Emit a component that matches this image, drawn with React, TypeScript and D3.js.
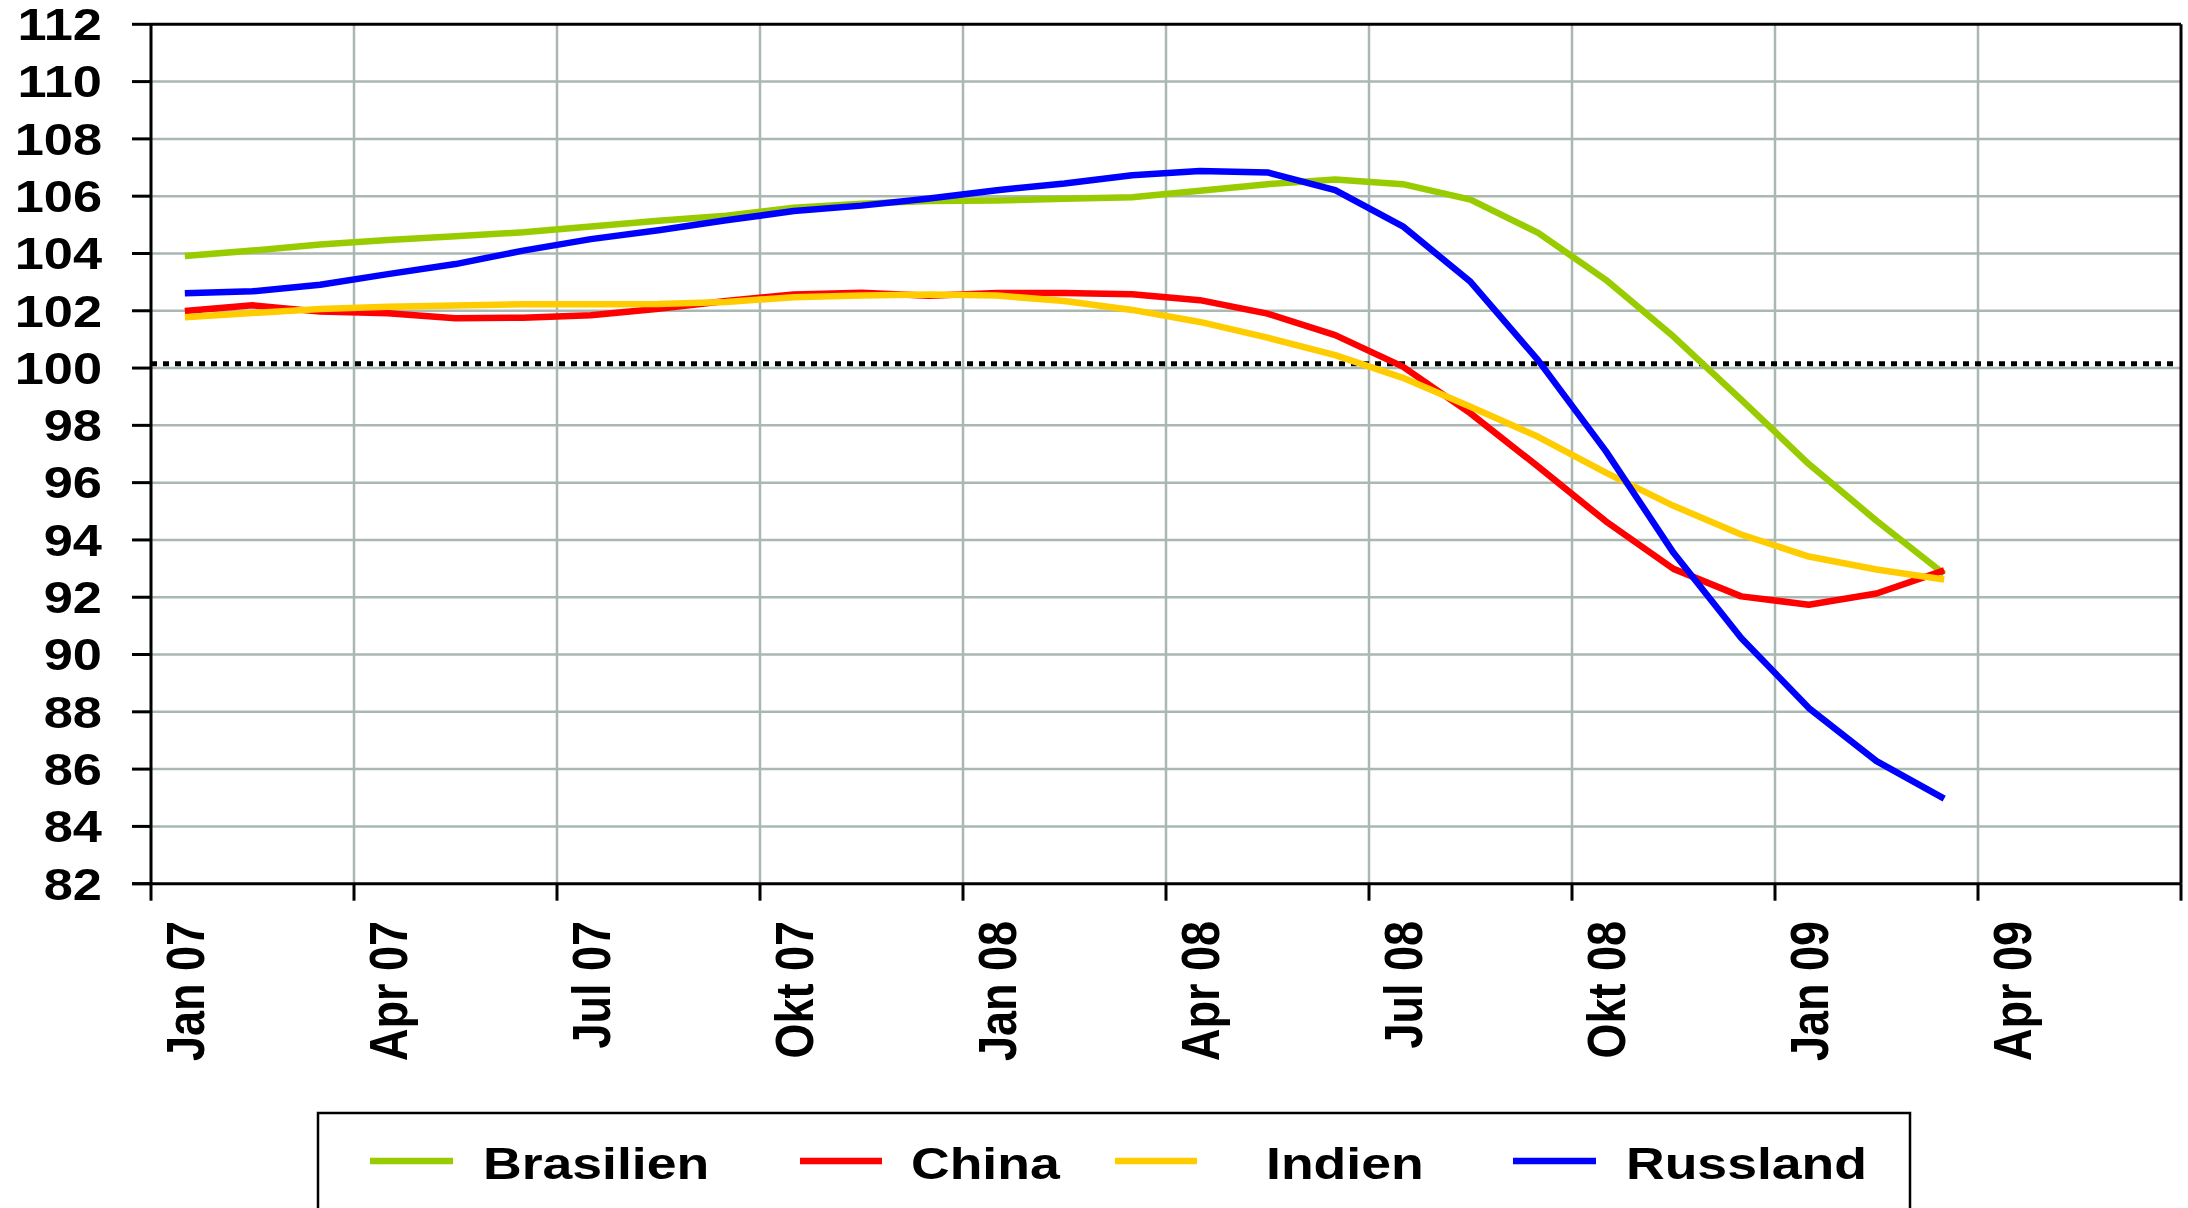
import React, { useEffect } from "react";
import * as d3 from "d3";

const W = 2188;
const H = 1208;

// 30 monthly categories Jan 07 .. Jun 09; data for the first 27 (Jan 07 .. Mar 09)
const categoryCount = 30;
const tickLabels = ["Jan 07", "Apr 07", "Jul 07", "Okt 07", "Jan 08", "Apr 08", "Jul 08", "Okt 08", "Jan 09", "Apr 09"];
const yTicks = [82, 84, 86, 88, 90, 92, 94, 96, 98, 100, 102, 104, 106, 108, 110, 112];
const referenceValue = 100.15;

const brasilien = [103.91, 104.1, 104.31, 104.47, 104.6, 104.74, 104.94, 105.14, 105.32, 105.6, 105.74, 105.83, 105.85, 105.91, 105.96, 106.19, 106.42, 106.58, 106.42, 105.88, 104.72, 103.08, 101.1, 98.9, 96.65, 94.67, 92.81];
const china = [101.99, 102.19, 101.97, 101.91, 101.74, 101.76, 101.84, 102.07, 102.34, 102.57, 102.63, 102.52, 102.62, 102.62, 102.58, 102.37, 101.9, 101.15, 100.05, 98.42, 96.56, 94.65, 92.99, 92.03, 91.74, 92.13, 92.94];
const indien = [101.77, 101.92, 102.06, 102.14, 102.18, 102.23, 102.23, 102.24, 102.31, 102.47, 102.53, 102.57, 102.53, 102.34, 102.03, 101.61, 101.06, 100.45, 99.66, 98.65, 97.6, 96.35, 95.19, 94.19, 93.42, 92.97, 92.62];
const russland = [102.61, 102.68, 102.91, 103.28, 103.63, 104.1, 104.5, 104.81, 105.16, 105.48, 105.67, 105.92, 106.21, 106.44, 106.73, 106.88, 106.83, 106.21, 104.95, 103.01, 100.27, 97.1, 93.55, 90.58, 88.13, 86.28, 84.97];

const seriesNames = ["Brasilien", "China", "Indien", "Russland"];
const seriesColors = ["#99cc00", "#ff0000", "#ffcc00", "#0000ff"];
const seriesValues = [brasilien, china, indien, russland];

const FONT = "'Liberation Sans', Arial, Helvetica, sans-serif";
const SX = 1.19; // horizontal stretch of the original's text

export default function App() {
  useEffect(() => {
    document.body.style.margin = "0";
    document.body.style.overflow = "hidden";
  }, []);

  const left = 151;
  const right = 2181;
  const top = 24.3;
  const bottom = 883.7;

  const x = d3.scaleLinear().domain([0, categoryCount]).range([left, right]);
  const y = d3.scaleLinear().domain([82, 112]).range([bottom, top]);

  const line = d3
    .line<number>()
    .x((_, i) => x(i + 0.5))
    .y((d) => y(d));

  const vGrid = d3.range(3, categoryCount, 3);
  const xTickPos = d3.range(0, categoryCount + 1, 3);

  const legendY = 1161;
  const legendItems = [
    { x1: 370, x2: 453, tx: 483 },
    { x1: 800, x2: 882, tx: 911 },
    { x1: 1115, x2: 1197, tx: 1266 },
    { x1: 1513, x2: 1596, tx: 1626 },
  ];

  return (
    <svg width={W} height={H} style={{ position: "absolute", left: 0, top: 0, display: "block", background: "#fff" }}>
      <rect x={0} y={0} width={W} height={H} fill="#fff" />
      {/* horizontal gridlines */}
      {yTicks.filter((t) => t > 82 && t < 112).map((t) => (
        <line key={"hg" + t} x1={left} x2={right} y1={y(t)} y2={y(t)} stroke="#aab8b3" strokeWidth={2.5} />
      ))}
      {/* vertical gridlines */}
      {vGrid.map((c) => (
        <line key={"vg" + c} x1={x(c)} x2={x(c)} y1={top} y2={bottom} stroke="#aab8b3" strokeWidth={2.5} />
      ))}
      {/* border top and right */}
      <line x1={left} x2={right} y1={top} y2={top} stroke="#000" strokeWidth={3} />
      <line x1={right} x2={right} y1={top} y2={bottom} stroke="#000" strokeWidth={3} />
      {/* reference line */}
      <line x1={left} x2={right - 6} y1={y(referenceValue)} y2={y(referenceValue)} stroke="#000" strokeWidth={5} strokeDasharray="6 6" />
      {/* series */}
      {seriesValues.map((vals, si) => (
        <path key={seriesNames[si]} d={line(vals) || ""} fill="none" stroke={seriesColors[si]} strokeWidth={6.5} strokeLinejoin="round" />
      ))}
      {/* axes */}
      <line x1={left} x2={left} y1={top} y2={bottom} stroke="#000" strokeWidth={3} />
      <line x1={132} x2={right} y1={bottom} y2={bottom} stroke="#000" strokeWidth={3} />
      {yTicks.map((t) => (
        <g key={"yt" + t}>
          <line x1={132} x2={left} y1={y(t)} y2={y(t)} stroke="#000" strokeWidth={3} />
          <text
            transform={`translate(102, ${y(t) + 15.8}) scale(${SX},1)`}
            textAnchor="end"
            fontFamily={FONT}
            fontWeight="bold"
            fontSize={44}
            fill="#000"
          >
            {t}
          </text>
        </g>
      ))}
      {xTickPos.map((c) => (
        <line key={"xt" + c} x1={x(c)} x2={x(c)} y1={bottom} y2={bottom + 17} stroke="#000" strokeWidth={3} />
      ))}
      {tickLabels.map((lab, k) => (
        <text
          key={lab}
          transform={`translate(${x(k * 3 + 0.5) + 19}, 921) scale(${SX},1) rotate(-90)`}
          textAnchor="end"
          fontFamily={FONT}
          fontWeight="bold"
          fontSize={45}
          fill="#000"
        >
          {lab}
        </text>
      ))}
      {/* legend */}
      <rect x={318} y={1113} width={1592} height={140} fill="#fff" stroke="#000" strokeWidth={2.5} />
      {legendItems.map((it, i) => (
        <g key={"lg" + i}>
          <line x1={it.x1} x2={it.x2} y1={legendY} y2={legendY} stroke={seriesColors[i]} strokeWidth={6.5} />
          <text
            transform={`translate(${it.tx}, 1179) scale(${SX},1)`}
            fontFamily={FONT}
            fontWeight="bold"
            fontSize={45}
            fill="#000"
          >
            {seriesNames[i]}
          </text>
        </g>
      ))}
    </svg>
  );
}
